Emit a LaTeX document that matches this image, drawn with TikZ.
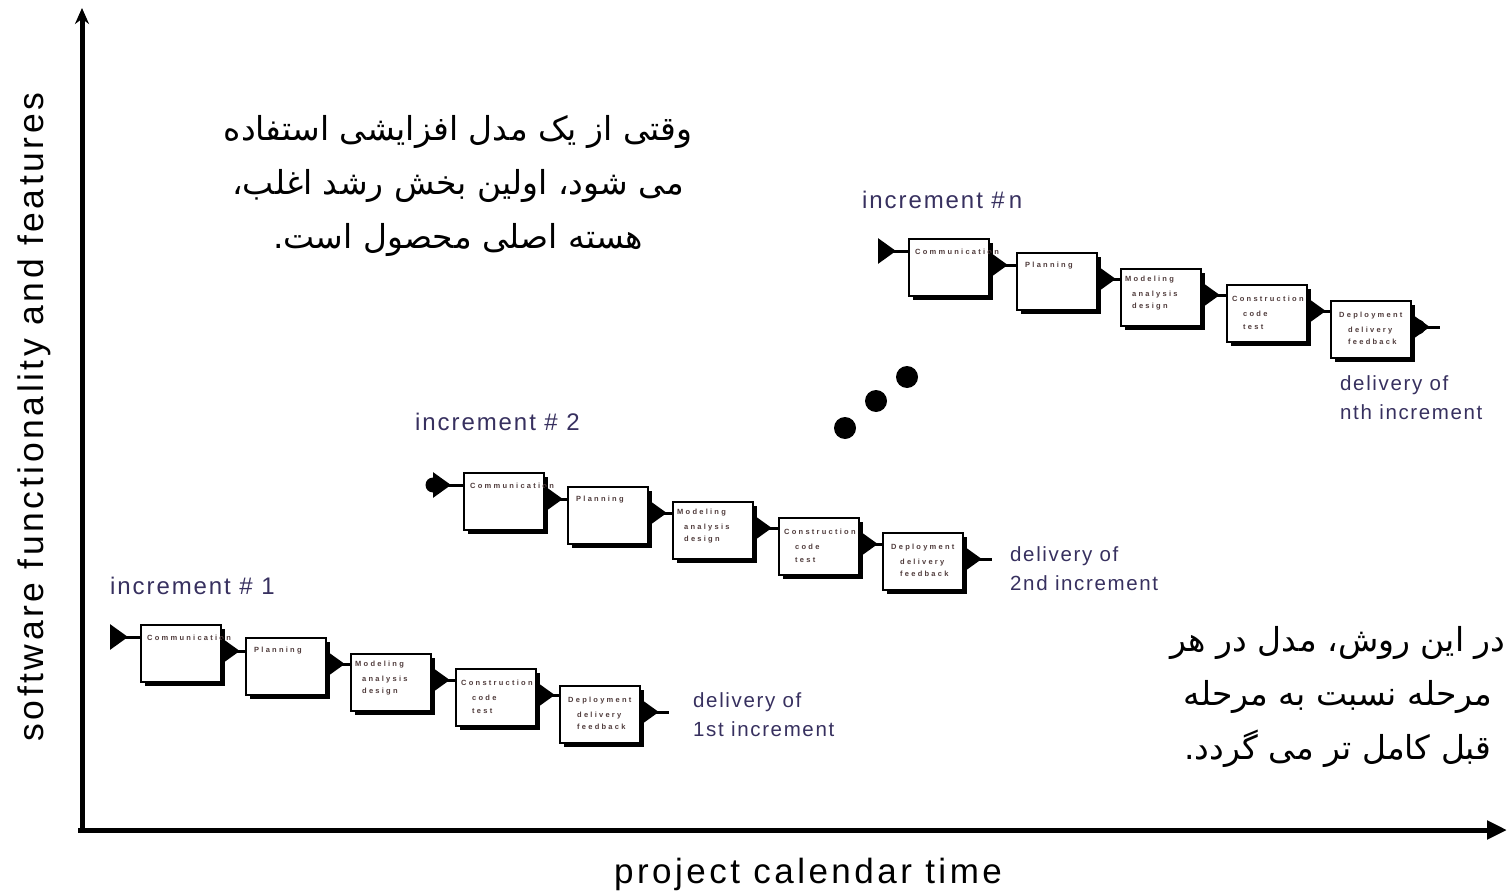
\documentclass[tikz,border=0pt]{standalone}
\usepackage{fontspec}
\setmainfont{Liberation Sans}
\newfontfamily\fa[Script=Arabic]{DejaVu Sans}
\newfontfamily\lblf[LetterSpace=8]{Liberation Sans}
\newfontfamily\axf[LetterSpace=10]{Liberation Sans}
\newfontfamily\boxf[LetterSpace=30]{Liberation Sans}
\TeXXeTstate=1
\usetikzlibrary{arrows.meta,calc,shadows}
\definecolor{lblc}{RGB}{55,48,95}
\definecolor{boxc}{RGB}{80,60,60}
\tikzset{
  stage/.style={draw, line width=1.8pt, fill=white, minimum width=80pt, minimum height=57pt,
     anchor=north west, inner sep=0pt,
     drop shadow={shadow xshift=4pt, shadow yshift=-4pt, opacity=1, fill=black}},
  btxt/.style={anchor=west, inner sep=0pt, text=boxc, font=\boxf\bfseries\fontsize{7.5}{8}\selectfont},
  conn/.style={line width=3pt, {Triangle[reversed,length=18pt,width=25pt]}-},
  lbl/.style={anchor=west, inner sep=0pt, text=lblc, font=\lblf\fontsize{24}{29}\selectfont, align=left},
  dlbl/.style={lbl, font=\lblf\fontsize{20.5}{29}\selectfont},
  axis/.style={line width=5pt},
  dot/.style={fill=black},
  fatext/.style={inner sep=0pt, align=center, font=\fa\fontsize{33}{54}\selectfont}
}
\newcommand{\stages}[6]{%
  \node[stage] (#1s1) at #2 {};
  \node[stage] (#1s2) at #3 {};
  \node[stage] (#1s3) at #4 {};
  \node[stage] (#1s4) at #5 {};
  \node[stage] (#1s5) at #6 {};
  \node[btxt] (#1t1) at ($(#1s1.north west)+(7,14)$) {Communication};
  \node[btxt] (#1t2) at ($(#1s2.north west)+(9,14)$) {Planning};
  \node[btxt] (#1t3) at ($(#1s3.north west)+(5,12)$) {Modeling};
  \node[btxt] (#1t3a) at ($(#1s3.north west)+(12,27)$) {analysis};
  \node[btxt] (#1t3b) at ($(#1s3.north west)+(12,39)$) {design};
  \node[btxt] (#1t4) at ($(#1s4.north west)+(6,15)$) {Construction};
  \node[btxt] (#1t4a) at ($(#1s4.north west)+(17,30)$) {code};
  \node[btxt] (#1t4b) at ($(#1s4.north west)+(17,43)$) {test};
  \node[btxt] (#1t5) at ($(#1s5.north west)+(9,16)$) {Deployment};
  \node[btxt] (#1t5a) at ($(#1s5.north west)+(18,31)$) {delivery};
  \node[btxt] (#1t5b) at ($(#1s5.north west)+(18,42)$) {feedback};
  \foreach \i/\j in {1/2,2/3,3/4,4/5}{
    \path ($(#1s\i.north east)+(0,27)$) coordinate (#1o\i);
    \draw[conn] (#1o\i) -- (#1o\i -| #1s\j.west);
  }
  \path ($(#1s1.north west)+(-30,13)$) coordinate (#1in);
  \draw[conn] (#1in) -- (#1in -| #1s1.west);
  \path ($(#1s5.north east)+(0,27)$) coordinate (#1o5);
  \path ($(#1o5)+(28,0)$) coordinate (#1out);
  \draw[conn] (#1o5) -- (#1out);
}
\begin{document}
\begin{tikzpicture}[x=1pt,y=-1pt]
\useasboundingbox (0,0) rectangle (1507,896);
% axes
\coordinate (origin) at (82,830);
\coordinate (ytop) at (82,8);
\coordinate (xend) at (1507,830);
\draw[axis, -{Stealth[length=16pt,width=14pt]}] (82,833) -- (ytop);
\draw[axis, -{Triangle[length=20pt,width=18pt]}] (78,830) -- (xend);
\node[inner sep=0pt, font=\axf\fontsize{35}{40}\selectfont] (xlab) at (808,874) {project calendar time};
\node[inner sep=0pt, rotate=90, font=\axf\fontsize{35.5}{40}\selectfont] (ylab) at (34,417) {software functionality and features};
% increments
\stages{a}{(140,624)}{(245,637)}{(350,653)}{(455,668)}{(559,685)}
\stages{b}{(463,472)}{(567,486)}{(672,501)}{(778,517)}{(882,532)}
\stages{n}{(908,238)}{(1016,252)}{(1120,268)}{(1226,284)}{(1330,300)}
\fill (bin) circle (7.5);
\fill (no5) ++(6,0) circle (7.5);
% labels
\node[lbl] (la) at (110,586) {increment \# 1};
\node[lbl] (lb) at (415,422) {increment \# 2};
\node[lbl] (ln) at (862,200) {increment \#\,n};
\node[dlbl] (da) at (693,715) {delivery of\\1st increment};
\node[dlbl] (db) at (1010,569) {delivery of\\2nd increment};
\node[dlbl] (dn) at (1340,398) {delivery of\\nth increment};
% dots
\fill[dot] (845,428) circle (11);
\fill[dot] (876,401) circle (11);
\fill[dot] (907,377) circle (11);
% Persian texts
\node[fatext] (fa1) at (458,186) {\beginR وقتی از یک مدل افزایشی استفاده\endR\\\beginR می شود، اولین بخش رشد اغلب،\endR\\\beginR هسته اصلی محصول است.\endR};
\node[fatext] (fa2) at (1338,697) {\beginR در این روش، مدل در هر\endR\\\beginR مرحله نسبت به مرحله\endR\\\beginR قبل کامل تر می گردد.\endR};
\end{tikzpicture}
\end{document}
